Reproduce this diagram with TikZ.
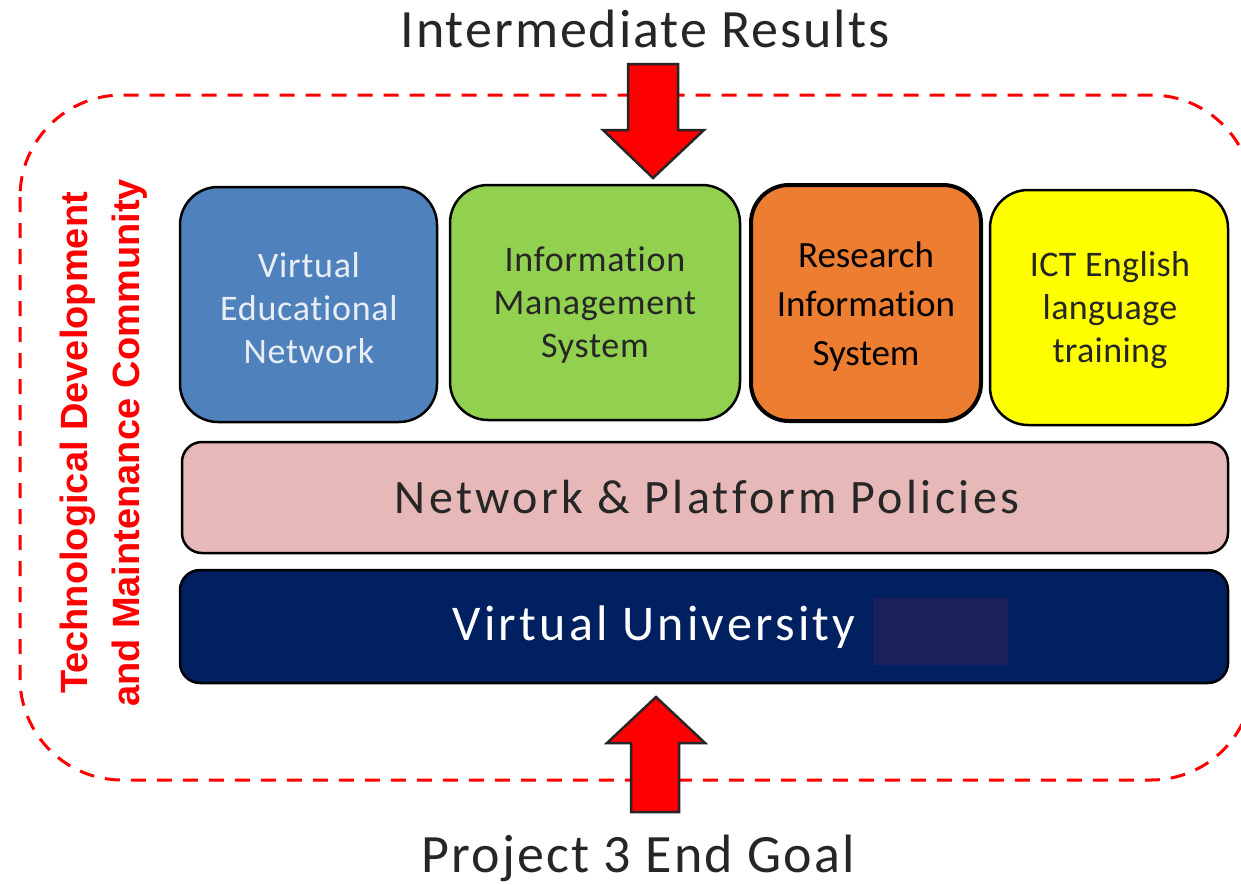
\documentclass[tikz,border=0pt]{standalone}
\usepackage{fontspec}
\setmainfont{Carlito}[Ligatures=NoCommon]
\newfontfamily\arialbold{Liberation Sans}[BoldFont={* Bold}]
\definecolor{boxblue}{HTML}{4F81BD}
\definecolor{boxgreen}{HTML}{92D050}
\definecolor{boxorange}{HTML}{ED7D31}
\definecolor{boxyellow}{HTML}{FFFF00}
\definecolor{boxpink}{HTML}{E6B9B8}
\definecolor{boxnavy}{HTML}{002060}
\definecolor{patch}{HTML}{1B1F5C}
\definecolor{lighttext}{HTML}{E9EEF5}
\definecolor{darktext}{HTML}{262626}
\tikzset{
  card/.style={draw=black, line width=2.5pt, rounded corners=38pt, inner sep=0pt},
  cardtext/.style={align=center, inner sep=0pt},
  bar/.style={draw=black, line width=2.5pt, rounded corners=20pt, inner sep=0pt},
  blockarrow/.style={fill=red, draw=black!85, line width=2.5pt, line join=miter},
}
\begin{document}
\begin{tikzpicture}[x=1pt,y=-1pt]
\useasboundingbox (0,0) rectangle (1241,884);
% dashed community border
\draw[red, line width=3pt, dash pattern=on 15pt off 11pt, rounded corners=102pt]
  (20,95) rectangle (1253,780);
% cards
\node[card, fill=boxblue, minimum width=257pt, minimum height=235pt] (ven) at (308.5,304.5) {};
\node[cardtext, text=lighttext, font=\fontsize{36}{43}\selectfont\addfontfeatures{LetterSpace=2}] (vent) at (309,308) {Virtual\\Educational\\Network};
\node[card, fill=boxgreen, minimum width=290pt, minimum height=235pt] (ims) at (595,302.5) {};
\node[cardtext, text=darktext, font=\fontsize{36}{43}\selectfont\addfontfeatures{LetterSpace=2}] (imst) at (595,305) {Information\\Management\\System};
\node[card, fill=boxorange, line width=4pt, minimum width=230pt, minimum height=236pt] (ris) at (866,303) {};
\node[cardtext, text=black, font=\fontsize{37}{49}\selectfont] (rist) at (866,307) {Research\\Information\\System};
\node[card, fill=boxyellow, minimum width=238pt, minimum height=235pt] (ict) at (1109,307.5) {};
\node[cardtext, text=darktext, font=\fontsize{36}{43}\selectfont\addfontfeatures{LetterSpace=1}] (ictt) at (1110,310) {ICT English\\language\\training};
% bars
\node[bar, fill=boxpink, minimum width=1046pt, minimum height=111pt] (npp) at (705,497.5) {};
\node[anchor=base, inner sep=0pt, text=darktext, font=\fontsize{48}{52}\selectfont\addfontfeatures{LetterSpace=7}] (nppt) at (707,513) {Network \& Platform Policies};
\node[bar, fill=boxnavy, minimum width=1048pt, minimum height=113pt] (vu) at (704,626.5) {};
\node[anchor=base, inner sep=0pt, text=white, font=\fontsize{50}{52}\selectfont\addfontfeatures{LetterSpace=6.5}] (vut) at (654,640) {Virtual University};
\node[fill=patch, minimum width=135pt, minimum height=67pt, inner sep=0pt] (vup) at (940.5,631.5) {};
% side label
\node[rotate=90, text=red, align=center, font=\arialbold\bfseries\fontsize{38}{52}\selectfont] (side) at (104,443)
  {Technological Development\\and Maintenance Community};
% titles
\node[anchor=base, inner sep=0pt, text=darktext, font=\fontsize{54}{58}\selectfont\addfontfeatures{LetterSpace=3.6}] (top) at (645,47) {Intermediate Results};
\node[anchor=base, inner sep=0pt, text=darktext, font=\fontsize{54}{58}\selectfont\addfontfeatures{LetterSpace=4}] (bot) at (638,872) {Project 3 End Goal};
% block arrows
\draw[blockarrow] (628,64) -- (678,64) -- (678,130) -- (704,130) -- (653,178) -- (603,130) -- (628,130) -- cycle;
\draw[blockarrow] (631,812) -- (679,812) -- (679,743) -- (705,743) -- (656,697) -- (607,743) -- (631,743) -- cycle;
\end{tikzpicture}
\end{document}
